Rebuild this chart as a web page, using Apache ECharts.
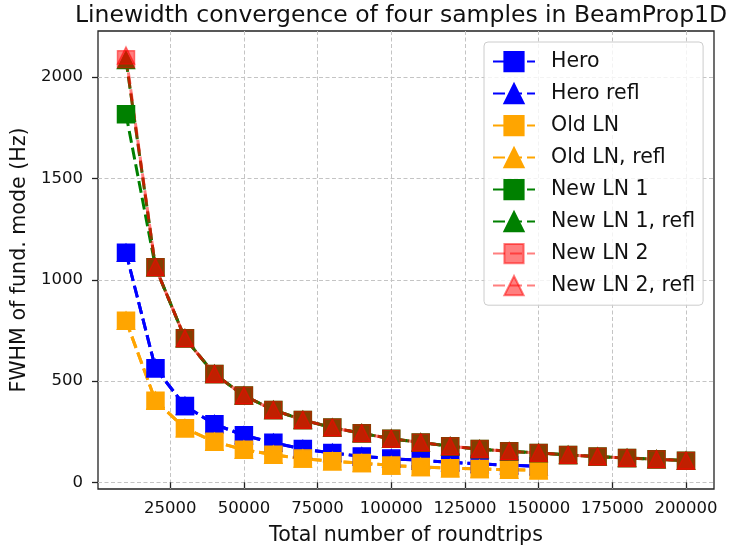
<!DOCTYPE html>
<html>
<head>
<meta charset="utf-8">
<script src="https://cdn.jsdelivr.net/npm/echarts@6/dist/echarts.min.js"></script>
<style>
html,body{margin:0;padding:0;background:#fff;}
#chart{width:743px;height:553px;}
</style>
</head>
<body>
<div id="chart"></div>
<script>
// ---- data ----
const roundtripsShort = [10000, 20000, 30000, 40000, 50000, 60000, 70000, 80000, 90000, 100000, 110000, 120000, 130000, 140000, 150000];
const roundtripsLong = [10000, 20000, 30000, 40000, 50000, 60000, 70000, 80000, 90000, 100000, 110000, 120000, 130000, 140000, 150000, 160000, 170000, 180000, 190000, 200000];

const hero       = [1133, 563, 377, 287, 232, 195, 164, 145, 128, 117, 108, 99, 91, 84, 79];
const heroRefl   = [1133, 563, 377, 287, 232, 195, 164, 145, 128, 117, 108, 99, 91, 84, 79];
const oldLN      = [798, 403, 267, 200, 161, 136, 117, 104, 95, 83, 76, 70, 66, 62, 59];
const oldLNRefl  = [798, 403, 267, 200, 161, 136, 117, 104, 95, 83, 76, 70, 66, 62, 59];
const newLN1     = [1817, 1062, 711, 535, 428, 357, 308, 270, 242, 215, 197, 178, 164, 153, 145, 135, 127, 120, 114, 107];
const newLN1Refl = [2085, 1062, 711, 535, 428, 357, 308, 270, 242, 215, 197, 178, 164, 153, 145, 135, 127, 120, 114, 107];
const newLN2     = [2089, 1062, 711, 535, 428, 357, 308, 270, 242, 215, 197, 178, 164, 153, 145, 135, 127, 120, 114, 107];
const newLN2Refl = [2107, 1062, 711, 535, 428, 357, 308, 270, 242, 215, 197, 178, 164, 153, 145, 135, 127, 120, 114, 107];

const seriesNames = ['Hero', 'Hero refl', 'Old LN', 'Old LN, refl', 'New LN 1', 'New LN 1, refl', 'New LN 2', 'New LN 2, refl'];
const xTicks = [25000, 50000, 75000, 100000, 125000, 150000, 175000, 200000];
const yTicks = [0, 500, 1000, 1500, 2000];

const titleText = 'Linewidth convergence of four samples in BeamProp1D';
const xName = 'Total number of roundtrips';
const yName = 'FWHM of fund. mode (Hz)';

// ---- chart ----
const FONT = 'DejaVu Sans';
function mk(name, xs, ys, color, sym, opacity) {
  return {
    name: name,
    type: 'line',
    data: xs.map((x, i) => [x, ys[i]]),
    symbol: sym === 's' ? 'rect' : 'triangle',
    symbolSize: 17,
    showAllSymbol: true,
    lineStyle: { color: color, width: 3, type: [12, 5], opacity: opacity },
    itemStyle: { color: color, borderColor: color, borderWidth: 1.5, opacity: opacity },
    emphasis: { disabled: true },
    animation: false
  };
}

const series = [
  mk(seriesNames[0], roundtripsShort, hero, '#0000ff', 's', 1),
  mk(seriesNames[1], roundtripsShort, heroRefl, '#0000ff', '^', 1),
  mk(seriesNames[2], roundtripsShort, oldLN, '#ffa500', 's', 1),
  mk(seriesNames[3], roundtripsShort, oldLNRefl, '#ffa500', '^', 1),
  mk(seriesNames[4], roundtripsLong, newLN1, '#008000', 's', 1),
  mk(seriesNames[5], roundtripsLong, newLN1Refl, '#008000', '^', 1),
  mk(seriesNames[6], roundtripsLong, newLN2, '#ff0000', 's', 0.5),
  mk(seriesNames[7], roundtripsLong, newLN2Refl, '#ff0000', '^', 0.5)
];

const gridLine = { show: true, lineStyle: { color: '#c4c4c4', width: 1, type: [4, 2.5] } };
const plain = v => String(v);

const chart = echarts.init(document.getElementById('chart'), null, { renderer: 'canvas' });
chart.setOption({
  animation: false,
  textStyle: { fontFamily: FONT },
  title: {
    text: titleText,
    left: 70, top: -1,
    textStyle: { fontFamily: FONT, fontSize: 23.5, fontWeight: 'normal', color: '#111' }
  },
  grid: {
    left: 98, right: 29, top: 31, bottom: 64,
    show: true, borderColor: '#222', borderWidth: 1.3, backgroundColor: 'transparent'
  },
  legend: {
    data: seriesNames,
    orient: 'vertical',
    left: 484, top: 42,
    itemWidth: 42, itemHeight: 24, itemGap: 10.8,
    padding: [9, 8, 9, 8],
    backgroundColor: 'rgba(255,255,255,0.8)',
    borderColor: '#cccccc', borderWidth: 1, borderRadius: 4,
    textStyle: { fontFamily: FONT, fontSize: 20.5, color: '#111', padding: [0, 0, 0, 11] },
    selectedMode: false
  },
  xAxis: {
    type: 'value',
    min: 500, max: 209500,
    name: xName, nameLocation: 'middle', nameGap: 36,
    nameTextStyle: { fontFamily: FONT, fontSize: 20.6, color: '#111' },
    axisLine: { show: false },
    axisTick: { show: true, customValues: xTicks, length: 6, lineStyle: { color: '#222', width: 1.3 } },
    axisLabel: { customValues: xTicks, formatter: plain, fontFamily: FONT, fontSize: 16.5, color: '#111', margin: 11 },
    splitLine: gridLine
  },
  yAxis: {
    type: 'value',
    min: -33, max: 2228,
    name: yName, nameLocation: 'middle', nameGap: 57,
    nameTextStyle: { fontFamily: FONT, fontSize: 20.6, color: '#111' },
    axisLine: { show: false },
    axisTick: { show: true, customValues: yTicks, length: 6, lineStyle: { color: '#222', width: 1.3 } },
    axisLabel: { customValues: yTicks, formatter: plain, fontFamily: FONT, fontSize: 16.5, color: '#111', margin: 15 },
    splitLine: gridLine
  },
  series: series
});
</script>
</body>
</html>
